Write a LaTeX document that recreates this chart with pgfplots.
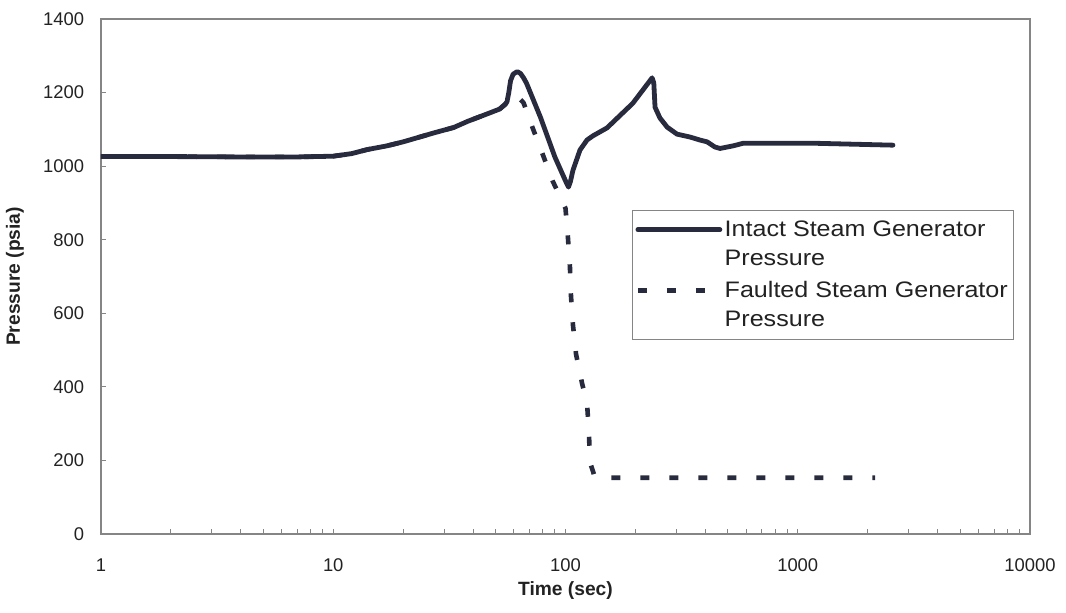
\documentclass[border=0pt]{standalone}
\usepackage{fontspec}
\setmainfont{Liberation Sans}
\newfontfamily\legfont{Liberation Sans}[FakeStretch=1.12]
\usepackage{pgfplots}
\usepackage{pgfplotstable}
\pgfplotsset{compat=1.18}
\definecolor{linec}{HTML}{282B3D}
\definecolor{axc}{HTML}{858585}
\definecolor{txt}{HTML}{222222}

\pgfplotstableread{
t p
1 1026
2 1026
4 1025
7 1025
10 1027
12 1034
14 1045
17 1055
20 1066
27 1090
33 1105
38 1122
46 1142
52 1155
55 1168
56 1175
57 1200
58 1232
59.5 1250
62 1257
64 1252
66 1240
68 1225
78 1133
90 1025
100 960
103 943
105 958
107.7 989
115.5 1044
123.8 1071
131 1082
151 1104
195 1171
236 1240
240 1226
243 1160
255 1131
274 1106
302 1087
344 1079
379 1071
407 1066
440 1052
463 1048
526 1055
581 1062
800 1062
1211 1062
2570 1057
}\intact

\pgfplotstableread{
t p
1 1026
2 1026
4 1025
7 1025
10 1027
12 1034
14 1045
17 1055
20 1066
27 1090
33 1105
38 1122
46 1142
52 1155
55 1168
56 1175
58 1192
62 1190
66 1172
72 1106
80 1030
88 960
100 885
102.5 804
104.5 726
105.6 647
107.7 568
111 489
117.8 410
123.8 356
126.2 275
127.4 196
134 153
2154 153
}\faulted

\begin{document}
\begin{tikzpicture}
\begin{axis}[
  at={(0pt,0pt)}, anchor=south west,
  scale only axis, width=464.5pt, height=257.5pt,
  xmode=log, log basis x=10,
  xmin=1, xmax=10000, ymin=0, ymax=1400,
  xtick={1,10,100,1000,10000},
  xticklabels={1,10,100,1000,10000},
  minor xtick={2,3,4,5,6,7,8,9,20,30,40,50,60,70,80,90,200,300,400,500,600,700,800,900,2000,3000,4000,5000,6000,7000,8000,9000},
  ytick={0,200,400,600,800,1000,1200,1400},
  scaled y ticks=false,
  /pgf/number format/1000 sep={},
  /pgf/number format/assume math mode=true,
  tick align=inside, xtick pos=bottom, ytick pos=left,
  major tick length=2.5pt, minor tick length=2.5pt,
  tick style={axc, line width=0.5pt},
  axis line style={axc, line width=0.6pt},
  ticklabel style={font=\fontsize{9.2}{11}\selectfont, text=txt},
  xticklabel style={yshift=-8.7pt},
  yticklabel style={xshift=-4.9pt},
  xlabel={Time (sec)}, ylabel={Pressure (psia)},
  label style={font=\bfseries\fontsize{9.6}{11}\selectfont, text=txt},
  xlabel style={at={(axis description cs:0.5,-0.1107)}, anchor=center},
  ylabel style={at={(axis description cs:-0.0926,0.5)}, anchor=center},
  legend style={at={(rel axis cs:0.5716,0.6291)}, anchor=north west,
    draw=axc, line width=0.5pt, fill=white,
    font=\legfont\fontsize{11.2}{14.5}\selectfont, text=txt,
    cells={align=left}, inner xsep=1.5pt, inner ysep=3pt, row sep=2.5pt,
    nodes={inner xsep=1.2pt}},
  legend cell align=left,
  legend image code/.code={\draw[#1] (0pt,7.25pt) -- (41pt,7.25pt);},
]
\addplot[linec, line width=2.4pt, line join=round, line cap=round] table[x=t, y=p] {\intact};
\addlegendentry{Intact Steam Generator\\Pressure}
\addplot[linec, line width=2.3pt, dash pattern=on 4.5pt off 10pt, line cap=butt] table[x=t, y=p] {\faulted};
\addlegendentry{Faulted Steam Generator\\Pressure}
\end{axis}
\pgfresetboundingbox
\path (-50.5pt,-39.5pt) rectangle (482.5pt,267pt);
\end{tikzpicture}
\end{document}
